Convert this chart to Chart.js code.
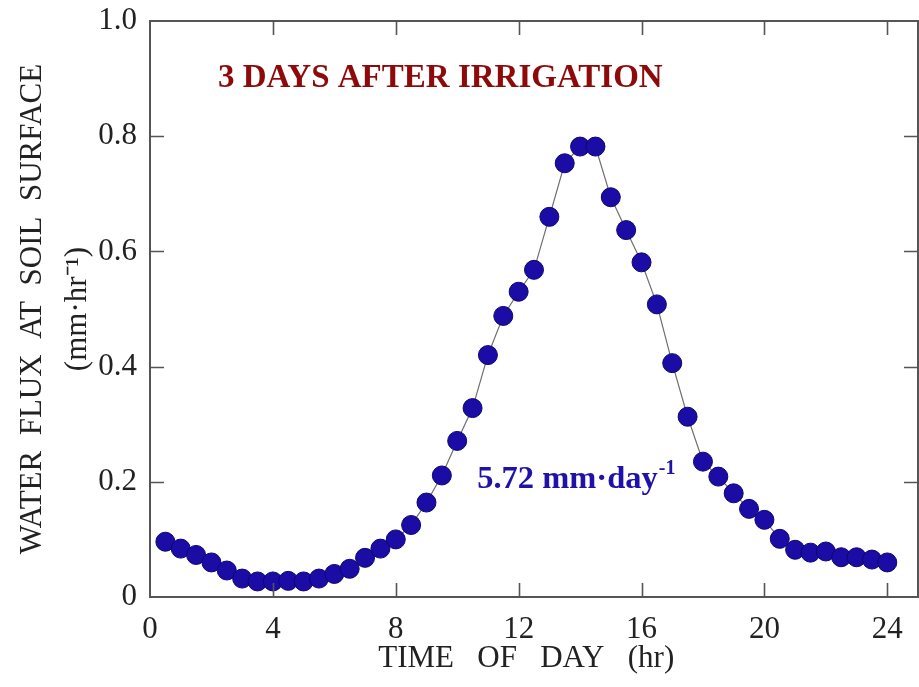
<!DOCTYPE html>
<html>
<head>
<meta charset="utf-8">
<script src="https://cdn.jsdelivr.net/npm/chart.js@4/dist/chart.umd.min.js"></script>
<style>
  html, body { margin: 0; padding: 0; background: #fff; }
  #wrap { width: 919px; height: 687px; position: relative; }
</style>
</head>
<body>
<div id="wrap"><canvas id="c"></canvas></div>
<script>
// ---- data ----
const hours = [0.5, 1, 1.5, 2, 2.5, 3, 3.5, 4, 4.5, 5, 5.5, 6, 6.5, 7, 7.5, 8,
               8.5, 9, 9.5, 10, 10.5, 11, 11.5, 12, 12.5, 13, 13.5, 14, 14.5, 15, 15.5, 16,
               16.5, 17, 17.5, 18, 18.5, 19, 19.5, 20, 20.5, 21, 21.5, 22, 22.5, 23, 23.5, 24];
const flux = [0.096, 0.084, 0.073, 0.060, 0.046, 0.032, 0.027, 0.027, 0.028, 0.027, 0.032, 0.040,
              0.049, 0.068, 0.084, 0.100, 0.125, 0.164, 0.211, 0.271, 0.328, 0.420, 0.488, 0.530,
              0.568, 0.660, 0.753, 0.782, 0.782, 0.694, 0.637, 0.581, 0.508, 0.406, 0.313, 0.235,
              0.209, 0.180, 0.153, 0.134, 0.101, 0.082, 0.077, 0.079, 0.069, 0.069, 0.065, 0.060];
const xTicks = [0, 4, 8, 12, 16, 20, 24];
const yTicks = [0, 0.2, 0.4, 0.6, 0.8, 1.0];
const yTickLabels = ['0', '0.2', '0.4', '0.6', '0.8', '1.0'];
const xTitle = 'TIME   OF   DAY   (hr)  ';
const yTitle = ['WATER  FLUX  AT  SOIL  SURFACE', '(mm\u00B7hr\u207B\u00B9)'];
const headline = '3 DAYS AFTER IRRIGATION';
const dailyTotal = '5.72 mm\u00B7day';
const dailyTotalSup = '-1';

const SERIF = '"Liberation Serif", "Times New Roman", serif';
const AXIS_COLOR = '#555';

const framePlugin = {
  id: 'frame',
  afterDatasetsDraw(chart) {
    const {ctx, chartArea: a, scales: {x, y}} = chart;
    ctx.save();
    ctx.strokeStyle = AXIS_COLOR;
    ctx.lineWidth = 2;
    ctx.strokeRect(a.left, a.top, a.right - a.left, a.bottom - a.top);
    const tl = 14;
    ctx.beginPath();
    xTicks.forEach(v => {
      const px = Math.round(x.getPixelForValue(v)) + 0.5;
      if (v === 0) return;
      ctx.moveTo(px, a.bottom); ctx.lineTo(px, a.bottom - tl);
      ctx.moveTo(px, a.top); ctx.lineTo(px, a.top + tl);
    });
    yTicks.forEach(v => {
      const py = Math.round(y.getPixelForValue(v)) + 0.5;
      if (v === 0 || v === 1) return;
      ctx.moveTo(a.left, py); ctx.lineTo(a.left + tl, py);
      ctx.moveTo(a.right, py); ctx.lineTo(a.right - tl, py);
    });
    ctx.lineWidth = 1.6;
    ctx.stroke();

    // annotations placed with data coordinates
    ctx.textBaseline = 'middle';
    ctx.fillStyle = '#8e0a0a';
    ctx.font = 'bold 33px ' + SERIF;
    ctx.textAlign = 'center';
    ctx.fillText(headline, x.getPixelForValue(9.45), y.getPixelForValue(0.901));

    ctx.fillStyle = '#1f12a8';
    ctx.font = 'bold 32.5px ' + SERIF;
    ctx.textAlign = 'left';
    const tx = x.getPixelForValue(10.65), ty = y.getPixelForValue(0.203);
    ctx.fillText(dailyTotal, tx, ty);
    const w = ctx.measureText(dailyTotal).width;
    ctx.font = 'bold 20px ' + SERIF;
    ctx.fillText(dailyTotalSup, tx + w + 1, ty - 11);
    ctx.restore();
  }
};

const zeroPad = s => { s.paddingTop = 0; s.paddingBottom = 0; s.paddingLeft = 0; s.paddingRight = 0; };

new Chart(document.getElementById('c'), {
  type: 'scatter',
  data: {
    datasets: [{
      data: hours.map((h, i) => ({x: h, y: flux[i]})),
      showLine: true,
      borderColor: '#6e6e6e',
      borderWidth: 1.2,
      pointRadius: 9.5,
      pointBackgroundColor: '#1c0ca6',
      pointBorderColor: '#0c0570',
      pointBorderWidth: 1,
      tension: 0
    }]
  },
  options: {
    responsive: true,
    maintainAspectRatio: false,
    animation: false,
    layout: { autoPadding: false, padding: { top: 21, right: 1, left: 0, bottom: 0 } },
    plugins: { legend: { display: false }, tooltip: { enabled: false } },
    scales: {
      x: {
        type: 'linear', min: 0, max: 25,
        grid: { display: false, drawTicks: false },
        border: { display: false },
        afterBuildTicks: s => { s.ticks = xTicks.map(v => ({value: v})); },
        afterFit: s => { s.height = 90; zeroPad(s); },
        ticks: { padding: 14, color: '#222', font: { family: SERIF, size: 31 },
                 callback: v => String(v), maxRotation: 0, autoSkip: false },
        title: { display: true, text: xTitle, color: '#222',
                 font: { family: SERIF, size: 31, lineHeight: 1.2 },
                 padding: { top: 0, bottom: 10 } }
      },
      y: {
        type: 'linear', min: 0, max: 1,
        grid: { display: false, drawTicks: false },
        border: { display: false },
        afterBuildTicks: s => { s.ticks = yTicks.map(v => ({value: v})); },
        afterFit: s => { s.width = 150; zeroPad(s); },
        ticks: { padding: 13, color: '#222', font: { family: SERIF, size: 31 },
                 callback: v => yTickLabels[yTicks.findIndex(t => Math.abs(t - v) < 1e-9)], autoSkip: false },
        title: { display: true, text: yTitle, color: '#222',
                 font: { family: SERIF, size: 31, lineHeight: 1.45 },
                 padding: { top: 10, bottom: 0 } }
      }
    }
  },
  plugins: [framePlugin]
});
</script>
</body>
</html>
